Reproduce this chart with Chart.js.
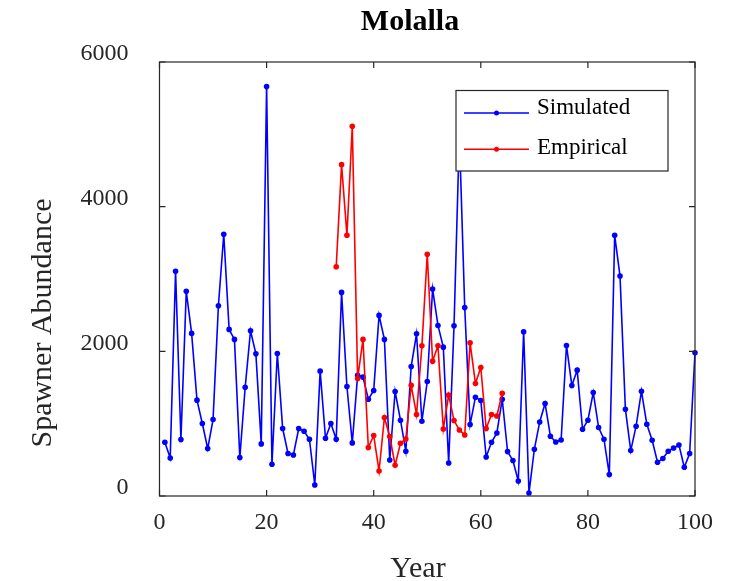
<!DOCTYPE html>
<html>
<head>
<meta charset="utf-8">
<script src="https://cdn.jsdelivr.net/npm/chart.js@4"></script>
<style>
  body { margin: 0; background: #fff; }
  #wrap { width: 730px; height: 581px; }
</style>
</head>
<body>
<div id="wrap"><canvas id="myChart" width="730" height="581"></canvas></div>
<script>
// data
var simYears = [1,2,3,4,5,6,7,8,9,10,11,12,13,14,15,16,17,18,19,20,21,22,23,24,25,26,27,28,29,30,31,32,33,34,35,36,37,38,39,40,41,42,43,44,45,46,47,48,49,50,51,52,53,54,55,56,57,58,59,60,61,62,63,64,65,66,67,68,69,70,71,72,73,74,75,76,77,78,79,80,81,82,83,84,85,86,87,88,89,90,91,92,93,94,95,96,97,98,99,100];
var simulated = [743,526,3106,780,2829,2248,1325,1002,656,1057,
                 2630,3618,2303,2165,531,1504,2284,1965,720,5660,
                 439,1971,933,587,567,933,895,785,152,1726,
                 799,1002,785,2815,1514,734,1670,1643,1338,1459,
                 2497,2165,498,1445,1048,619,1791,2242,1034,1583,
                 2861,2358,2058,457,2353,5000,2607,988,1366,1320,
                 540,743,872,1338,614,490,208,2270,42,646,
                 1024,1279,826,747,775,2081,1528,1740,923,1048,
                 1431,947,785,296,3604,3041,1200,628,965,1449,
                 992,771,466,518,619,664,706,397,587,1979];
var empYears = [33,34,35,36,37,38,39,40,41,42,43,44,45,46,47,48,49,50,51,52,53,54,55,56,57,58,59,60,61,62,63,64];
var empirical = [3169,4581,3604,5112,1625,2165,670,836,346,1085,
                 822,425,729,789,1532,1126,2076,3341,1864,2076,
                 927,1394,1043,913,844,2118,1556,1777,933,1126,
                 1107,1421];
var xTicks = [0,20,40,60,80,100];
var yTicks = [0,2000,4000,6000];

var FONT = "'Liberation Serif', 'Times New Roman', serif";
var INK = '#262626';

function pts(xs, ys) {
  return xs.map(function (x, i) { return { x: x, y: ys[i] }; });
}

// frame, inner ticks, title, axis titles and legend box
var decor = {
  id: 'decor',
  afterDatasetsDraw: function (chart) {
    var ctx = chart.ctx, a = chart.chartArea;
    var xs = chart.scales.x, ys = chart.scales.y;
    ctx.save();
    ctx.strokeStyle = INK;
    ctx.lineWidth = 1.2;
    ctx.strokeRect(a.left, a.top, a.right - a.left, a.bottom - a.top);
    ctx.beginPath();
    xTicks.forEach(function (v) {
      var px = xs.getPixelForValue(v);
      ctx.moveTo(px, a.bottom); ctx.lineTo(px, a.bottom - 6);
      ctx.moveTo(px, a.top); ctx.lineTo(px, a.top + 6);
    });
    yTicks.forEach(function (v) {
      var py = ys.getPixelForValue(v);
      ctx.moveTo(a.left, py); ctx.lineTo(a.left + 6, py);
      ctx.moveTo(a.right, py); ctx.lineTo(a.right - 6, py);
    });
    ctx.stroke();

    // legend
    var lx = 456, ly = 90.5, lw = 212, lh = 80.5;
    ctx.fillStyle = '#fff';
    ctx.fillRect(lx, ly, lw, lh);
    ctx.strokeStyle = INK;
    ctx.lineWidth = 1.2;
    ctx.strokeRect(lx, ly, lw, lh);
    var rows = [
      { label: 'Simulated', color: '#0000ff', y: 113, base: 114 },
      { label: 'Empirical', color: '#ff0000', y: 149.3, base: 153.5 }
    ];
    rows.forEach(function (r) {
      ctx.strokeStyle = r.color;
      ctx.lineWidth = 1.5;
      ctx.beginPath();
      ctx.moveTo(464, r.y); ctx.lineTo(529, r.y);
      ctx.stroke();
      ctx.fillStyle = r.color;
      ctx.beginPath();
      ctx.arc(496.5, r.y, 2.5, 0, Math.PI * 2);
      ctx.fill();
      ctx.fillStyle = '#000';
      ctx.font = '23px ' + FONT;
      ctx.textAlign = 'left';
      ctx.textBaseline = 'alphabetic';
      ctx.fillText(r.label, 537, r.base);
    });

    // title
    ctx.fillStyle = '#000';
    ctx.font = 'bold 30px ' + FONT;
    ctx.textAlign = 'center';
    ctx.textBaseline = 'alphabetic';
    ctx.fillText('Molalla', 410, 30);

    // axis titles
    ctx.fillStyle = INK;
    ctx.font = '30px ' + FONT;
    ctx.fillText('Year', 418, 577);
    ctx.save();
    ctx.translate(51, 323);
    ctx.rotate(-Math.PI / 2);
    ctx.fillText('Spawner Abundance', 0, 0);
    ctx.restore();
    ctx.restore();
  }
};

var myChart = new Chart(document.getElementById('myChart').getContext('2d'), {
  type: 'line',
  data: {
    datasets: [{
      label: 'Simulated',
      data: pts(simYears, simulated),
      borderColor: '#0000ff',
      backgroundColor: '#0000ff',
      borderWidth: 1.6,
      pointRadius: 2.8,
      pointBorderWidth: 0,
      tension: 0,
      clip: false,
      order: 2
    }, {
      label: 'Empirical',
      data: pts(empYears, empirical),
      borderColor: '#ff0000',
      backgroundColor: '#ff0000',
      borderWidth: 1.6,
      pointRadius: 2.8,
      pointBorderWidth: 0,
      tension: 0,
      clip: false,
      order: 1
    }]
  },
  options: {
    responsive: false,
    animation: false,
    layout: { padding: { left: 0, top: 62, right: 35, bottom: 0 } },
    plugins: {
      legend: { display: false },
      title: { display: false },
      tooltip: { enabled: false }
    },
    scales: {
      x: {
        type: 'linear',
        min: 0, max: 100,
        afterFit: function (s) { s.height = 85; },
        afterBuildTicks: function (s) { s.ticks = xTicks.map(function (v) { return { value: v }; }); },
        grid: { display: false, drawTicks: false },
        border: { display: false },
        ticks: {
          padding: 12, color: INK, maxRotation: 0,
          font: { family: FONT, size: 24 },
          callback: function (v) { return String(v); }
        }
      },
      y: {
        min: 0, max: 6000,
        afterFit: function (s) { s.width = 159.5; },
        afterBuildTicks: function (s) { s.ticks = yTicks.map(function (v) { return { value: v }; }); },
        grid: { display: false, drawTicks: false },
        border: { display: false },
        ticks: {
          padding: 31, labelOffset: -8, color: INK,
          font: { family: FONT, size: 24 },
          callback: function (v) { return String(v); }
        }
      }
    }
  },
  plugins: [decor]
});
</script>
</body>
</html>
